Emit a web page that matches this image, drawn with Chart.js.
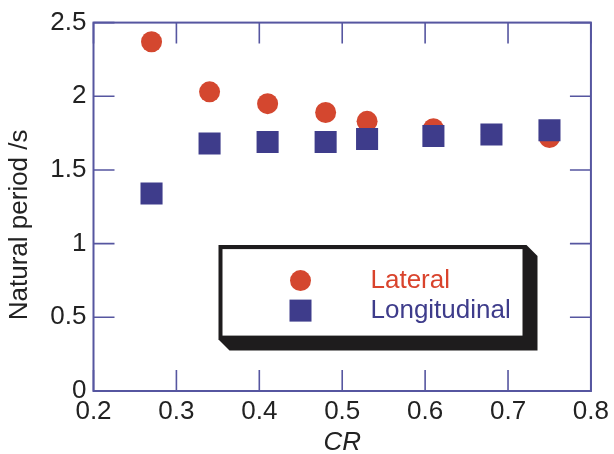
<!DOCTYPE html>
<html>
<head>
<meta charset="utf-8">
<script src="https://cdn.jsdelivr.net/npm/chart.js@4.4.1/dist/chart.umd.min.js"></script>
<style>
html,body{margin:0;padding:0;background:#fff;}
#wrap{width:614px;height:454px;}
</style>
</head>
<body>
<div id="wrap"><canvas id="c" width="614" height="454"></canvas></div>
<script>
// ---- data ----
const crValues = [0.27, 0.34, 0.41, 0.48, 0.53, 0.61, 0.68, 0.75];
const lateral = [2.37, 2.03, 1.95, 1.89, 1.83, 1.78, 1.74, 1.72];
const longitudinal = [1.34, 1.68, 1.69, 1.69, 1.71, 1.73, 1.74, 1.77];
const xTicks = [0.2, 0.3, 0.4, 0.5, 0.6, 0.7, 0.8];
const yTicks = [0, 0.5, 1, 1.5, 2, 2.5];
const seriesNames = ['Lateral', 'Longitudinal'];

const RED = '#d4472f';
const BLUE = '#3e3c8b';
const AXIS = '#5656a0';
const FONT = "'Liberation Sans', Arial, Helvetica, sans-serif";

function pts(xs, ys) { return xs.map((x, i) => ({x: x, y: ys[i]})); }

const framePlugin = {
  id: 'frameTicks',
  afterDatasetsDraw(chart) {
    const ctx = chart.ctx;
    const a = chart.chartArea;
    const xs = chart.scales.x, ys = chart.scales.y;
    const tl = 21;
    ctx.save();
    ctx.strokeStyle = AXIS;
    ctx.lineWidth = 1.6;
    ctx.beginPath();
    xTicks.forEach(v => {
      const px = xs.getPixelForValue(v);
      ctx.moveTo(px, a.bottom); ctx.lineTo(px, a.bottom - tl);
      ctx.moveTo(px, a.top); ctx.lineTo(px, a.top + tl);
    });
    yTicks.forEach(v => {
      const py = ys.getPixelForValue(v);
      ctx.moveTo(a.left, py); ctx.lineTo(a.left + tl, py);
      ctx.moveTo(a.right, py); ctx.lineTo(a.right - tl, py);
    });
    ctx.stroke();
    ctx.lineWidth = 2;
    ctx.strokeRect(a.left, a.top, a.right - a.left, a.bottom - a.top);

    // legend box with 3D shadow
    const L = a.left + 125, T = a.top + 222.5, R = a.left + 433, B = a.top + 317;
    const d = 11;
    ctx.fillStyle = '#1e1c1d';
    ctx.beginPath();
    ctx.moveTo(L, T); ctx.lineTo(R, T); ctx.lineTo(R + d, T + d);
    ctx.lineTo(R + d, B + d); ctx.lineTo(L + d, B + d); ctx.lineTo(L, B);
    ctx.closePath();
    ctx.fill();
    ctx.fillStyle = '#ffffff';
    ctx.fillRect(L + 4, T + 4, R - L - 8, B - T - 8);

    // legend markers
    const mx = L + 82;
    ctx.fillStyle = RED;
    ctx.beginPath(); ctx.arc(mx, T + 35.5, 10.5, 0, Math.PI * 2); ctx.fill();
    ctx.fillStyle = BLUE;
    ctx.fillRect(mx - 11, T + 54.5, 22, 22);

    ctx.font = '26px ' + FONT;
    ctx.textAlign = 'left';
    ctx.textBaseline = 'alphabetic';
    ctx.fillStyle = '#d9432c';
    ctx.fillText(seriesNames[0], L + 152, T + 43);
    ctx.fillStyle = BLUE;
    ctx.fillText(seriesNames[1], L + 152, T + 73);
    ctx.restore();
  }
};

new Chart(document.getElementById('c'), {
  type: 'scatter',
  data: {
    datasets: [
      {label: seriesNames[0], data: pts(crValues, lateral), pointStyle: 'circle', pointRadius: 10.5,
       pointHoverRadius: 10.5, backgroundColor: RED, borderWidth: 0, order: 2},
      {label: seriesNames[1], data: pts(crValues, longitudinal), pointStyle: 'rect', pointRadius: 15.6,
       pointHoverRadius: 15.6, backgroundColor: BLUE, borderWidth: 0, order: 1}
    ]
  },
  options: {
    responsive: false,
    animation: false,
    events: [],
    layout: {padding: {top: 20, right: 21, left: 0, bottom: 0}},
    plugins: {legend: {display: false}, tooltip: {enabled: false}},
    scales: {
      x: {
        type: 'linear', min: 0.2, max: 0.8,
        afterBuildTicks: s => { s.ticks = xTicks.map(v => ({value: v})); },
        afterFit: s => { s.height = 63; },
        grid: {display: false, drawTicks: false},
        border: {display: false},
        ticks: {color: '#222', font: {family: FONT, size: 26}, padding: 5,
                maxRotation: 0, autoSkip: false, callback: v => v.toFixed(1)},
        title: {display: true, text: 'CR', color: '#222',
                font: {family: FONT, size: 26, style: 'italic', lineHeight: 0.9}, padding: {top: 0, bottom: 0}}
      },
      y: {
        type: 'linear', min: 0, max: 2.5,
        afterBuildTicks: s => { s.ticks = yTicks.map(v => ({value: v})); },
        afterFit: s => { s.width = 93.5; },
        grid: {display: false, drawTicks: false},
        border: {display: false},
        ticks: {color: '#222', font: {family: FONT, size: 26}, padding: 7, autoSkip: false,
                callback: v => String(v)},
        title: {display: true, text: 'Natural period /s     ', color: '#222',
                font: {family: FONT, size: 26, lineHeight: 1}, padding: {top: 7, bottom: 0}}
      }
    }
  },
  plugins: [framePlugin]
});
</script>
</body>
</html>
